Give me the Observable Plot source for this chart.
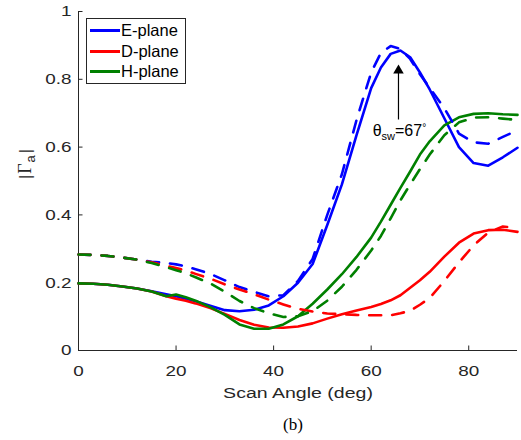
<!DOCTYPE html>
<html><head><meta charset="utf-8">
<script src="https://cdn.jsdelivr.net/npm/d3@7"></script>
<script src="https://cdn.jsdelivr.net/npm/@observablehq/plot@0.6"></script>
<style>
body{margin:0;background:#fff;}
#wrap{position:relative;width:521px;height:440px;}
#legend{position:absolute;left:86px;top:18px;width:100px;height:66px;border:1px solid #262626;background:#fff;box-sizing:border-box;font-family:"Liberation Sans",Arial,sans-serif;font-size:16.5px;color:#000;}
.row{position:absolute;left:0;height:20px;display:flex;align-items:center;white-space:nowrap;}
.sw{width:30px;height:2.6px;margin-left:3px;margin-right:1px;}
</style></head><body><div id="wrap"></div>
<script>
// ---- data ----
const angles  = [0,3,6,9,12,15,18,20,22,24,27,30,33,36,39,42,45,48,51,54,57,60,62,64,66,68,70,72,75,78,81,84,87,90];
const eSolid  = [.198,.197,.194,.189,.183,.175,.166,.160,.153,.145,.132,.119,.116,.120,.133,.160,.200,.255,.370,.490,.635,.774,.835,.875,.885,.865,.820,.770,.685,.600,.553,.545,.570,.598];
const eDashed = [.283,.282,.279,.274,.268,.262,.258,.254,.248,.240,.226,.207,.187,.173,.160,.163,.205,.270,.400,.520,.680,.820,.878,.898,.890,.860,.815,.775,.715,.640,.614,.610,.630,.650];
const dSolid  = [.198,.197,.194,.189,.183,.174,.160,.153,.147,.139,.125,.108,.090,.076,.068,.067,.071,.080,.094,.107,.118,.128,.137,.148,.163,.185,.207,.232,.277,.318,.345,.355,.356,.350];
const dDashed = [.283,.282,.279,.274,.268,.260,.250,.243,.236,.226,.212,.195,.180,.166,.150,.136,.123,.115,.109,.107,.105,.104,.104,.104,.110,.117,.135,.155,.205,.260,.310,.348,.366,.360];
const hSolid  = [.198,.197,.194,.189,.183,.174,.160,.165,.157,.147,.128,.105,.077,.064,.064,.077,.101,.138,.180,.225,.276,.333,.380,.430,.480,.528,.578,.617,.664,.688,.698,.700,.697,.695];
const hDashed = [.283,.282,.279,.274,.268,.258,.246,.237,.228,.216,.198,.173,.146,.125,.110,.099,.101,.116,.147,.188,.238,.295,.338,.390,.443,.490,.535,.578,.635,.673,.687,.688,.684,.680];
const planes  = ["E-plane","D-plane","H-plane"];
const colors  = ["#0000ff","#ff0000","#008000"];
const xTicks  = [0,20,40,60,80];
const yTicks  = [0,0.2,0.4,0.6,0.8,1];
const xLabel  = "Scan Angle (deg)";
const yLabel  = "|Γa|";
const caption = "(b)";
const annotation = [{x:65.6, y1:0.68, y2:0.826, tx:60.3, ty:0.648, text:"θsw=67°"}];

// ---- build series table ----
const solidSeries  = [eSolid, dSolid, hSolid];
const dashedSeries = [eDashed, dDashed, hDashed];
function rows(vals){ return angles.map((a,i)=>({angle:a, value:vals[i]})); }

const W = 521, H = 440, mL = 78, mR = 4, mT = 11, mB = 90;
const frameW = W - mL - mR, frameH = H - mT - mB;
const axisColor = "#262626";
const lineMarks = [];
solidSeries.forEach((s,k)=> lineMarks.push(Plot.line(rows(s), {x:"angle", y:"value", stroke:colors[k], strokeWidth:2.6})));
dashedSeries.forEach((s,k)=> lineMarks.push(Plot.line(rows(s), {x:"angle", y:"value", stroke:colors[k], strokeWidth:2.6, strokeDasharray:"12,11"})));

const chart = Plot.plot({
  width: W, height: H,
  marginLeft: mL, marginRight: mR, marginTop: mT, marginBottom: mB,
  style: {fontFamily: "'Liberation Sans', Arial, sans-serif", background: "white", color: axisColor},
  x: {domain: [0, 90]},
  y: {domain: [0, 1]},
  marks: [
    Plot.ruleX([0], {stroke: axisColor, strokeWidth: 1}),
    Plot.ruleY([0], {stroke: axisColor, strokeWidth: 1}),
    Plot.tickX(xTicks, {x: d=>d, stroke: axisColor, insetTop: frameH - 4.5}),
    Plot.tickY(yTicks, {y: d=>d, stroke: axisColor, insetRight: frameW - 4.5}),
    Plot.axisX(xTicks, {tickSize: 0, tickPadding: 14, fontSize: 15.5, label: null, fill: axisColor}),
    Plot.axisY(yTicks, {tickSize: 0, tickPadding: 7, fontSize: 15.5, label: null, fill: axisColor, tickFormat: d=>String(d)}),
    Plot.text([xLabel], {frameAnchor: "bottom", dy: 42.5, text: d=>d, fontSize: 15.5, fill: axisColor, lineAnchor: "middle"}),
    Plot.text([yLabel], {frameAnchor: "left", dx: -53, dy: -2, text: d=>d, rotate: -90, fontSize: 16, fill: axisColor, lineAnchor: "middle"}),
    Plot.text([caption], {frameAnchor: "bottom", dx: -5, dy: 74, text: d=>d, fontSize: 17, fontFamily: "'Liberation Serif', 'Times New Roman', serif", fill: "#000", lineAnchor: "middle"}),
    ...lineMarks,
    Plot.ruleX(annotation, {x: "x", y1: "y1", y2: "y2", stroke: "#000", strokeWidth: 1.2}),
    Plot.dot(annotation, {x: "x", y: "y2", symbol: "triangle", r: 3.9, fill: "#000", stroke: "none"}),
    Plot.text(annotation, {x: "tx", y: "ty", text: "text", textAnchor: "start", fontSize: 16, fill: "#000", lineAnchor: "middle"})
  ]
});

// stretch tick labels / x label horizontally like the reference
function stretch(t, s){
  const tr = t.getAttribute("transform");
  if (tr) t.setAttribute("transform", tr + ` scale(${s},1)`);
  else {
    const x = +(t.getAttribute("x") || 0);
    t.setAttribute("transform", `translate(${x},0) scale(${s},1) translate(${-x},0)`);
  }
}
const tickStrings = new Set([...xTicks.map(String), ...yTicks.map(String)]);
chart.querySelectorAll("text").forEach(t=>{
  const c = t.textContent;
  if (tickStrings.has(c)) stretch(t, 1.22);
  else if (c === xLabel) stretch(t, 1.26);
});

function rich(content, parts){
  chart.querySelectorAll("text").forEach(t=>{
    if (t.textContent === content) {
      t.textContent = "";
      parts.forEach(p=>{
        const ts = document.createElementNS("http://www.w3.org/2000/svg","tspan");
        ts.textContent = p.t;
        if (p.size) ts.setAttribute("font-size", p.size);
        if (p.dy) ts.setAttribute("dy", p.dy);
        if (p.dx) ts.setAttribute("dx", p.dx);
        if (p.family) ts.setAttribute("font-family", p.family);
        t.appendChild(ts);
      });
    }
  });
}
rich(annotation[0].text, [{t:"θ"},{t:"sw", size:11, dy:4},{t:"=67", size:16, dy:-4},{t:"°", size:10, dy:-5}]);
rich(yLabel, [{t:"|", size:16},{t:"Γ", size:18, family:"'Liberation Serif', serif", dx:1},{t:"a", size:13, dy:4, dx:1},{t:"|", size:16, dy:-4, dx:2}]);

const wrap = document.getElementById("wrap");
wrap.appendChild(chart);

// legend (HTML overlay)
const legend = document.createElement("div");
legend.id = "legend";
const rowTops = [1.7, 22.7, 42.7];
planes.forEach((p,k)=>{
  const r = document.createElement("div");
  r.className = "row";
  r.style.top = rowTops[k] + "px";
  const sw = document.createElement("div");
  sw.className = "sw";
  sw.style.background = colors[k];
  const lab = document.createElement("span");
  lab.textContent = p;
  r.appendChild(sw); r.appendChild(lab);
  legend.appendChild(r);
});
wrap.appendChild(legend);
</script>
</body></html>
